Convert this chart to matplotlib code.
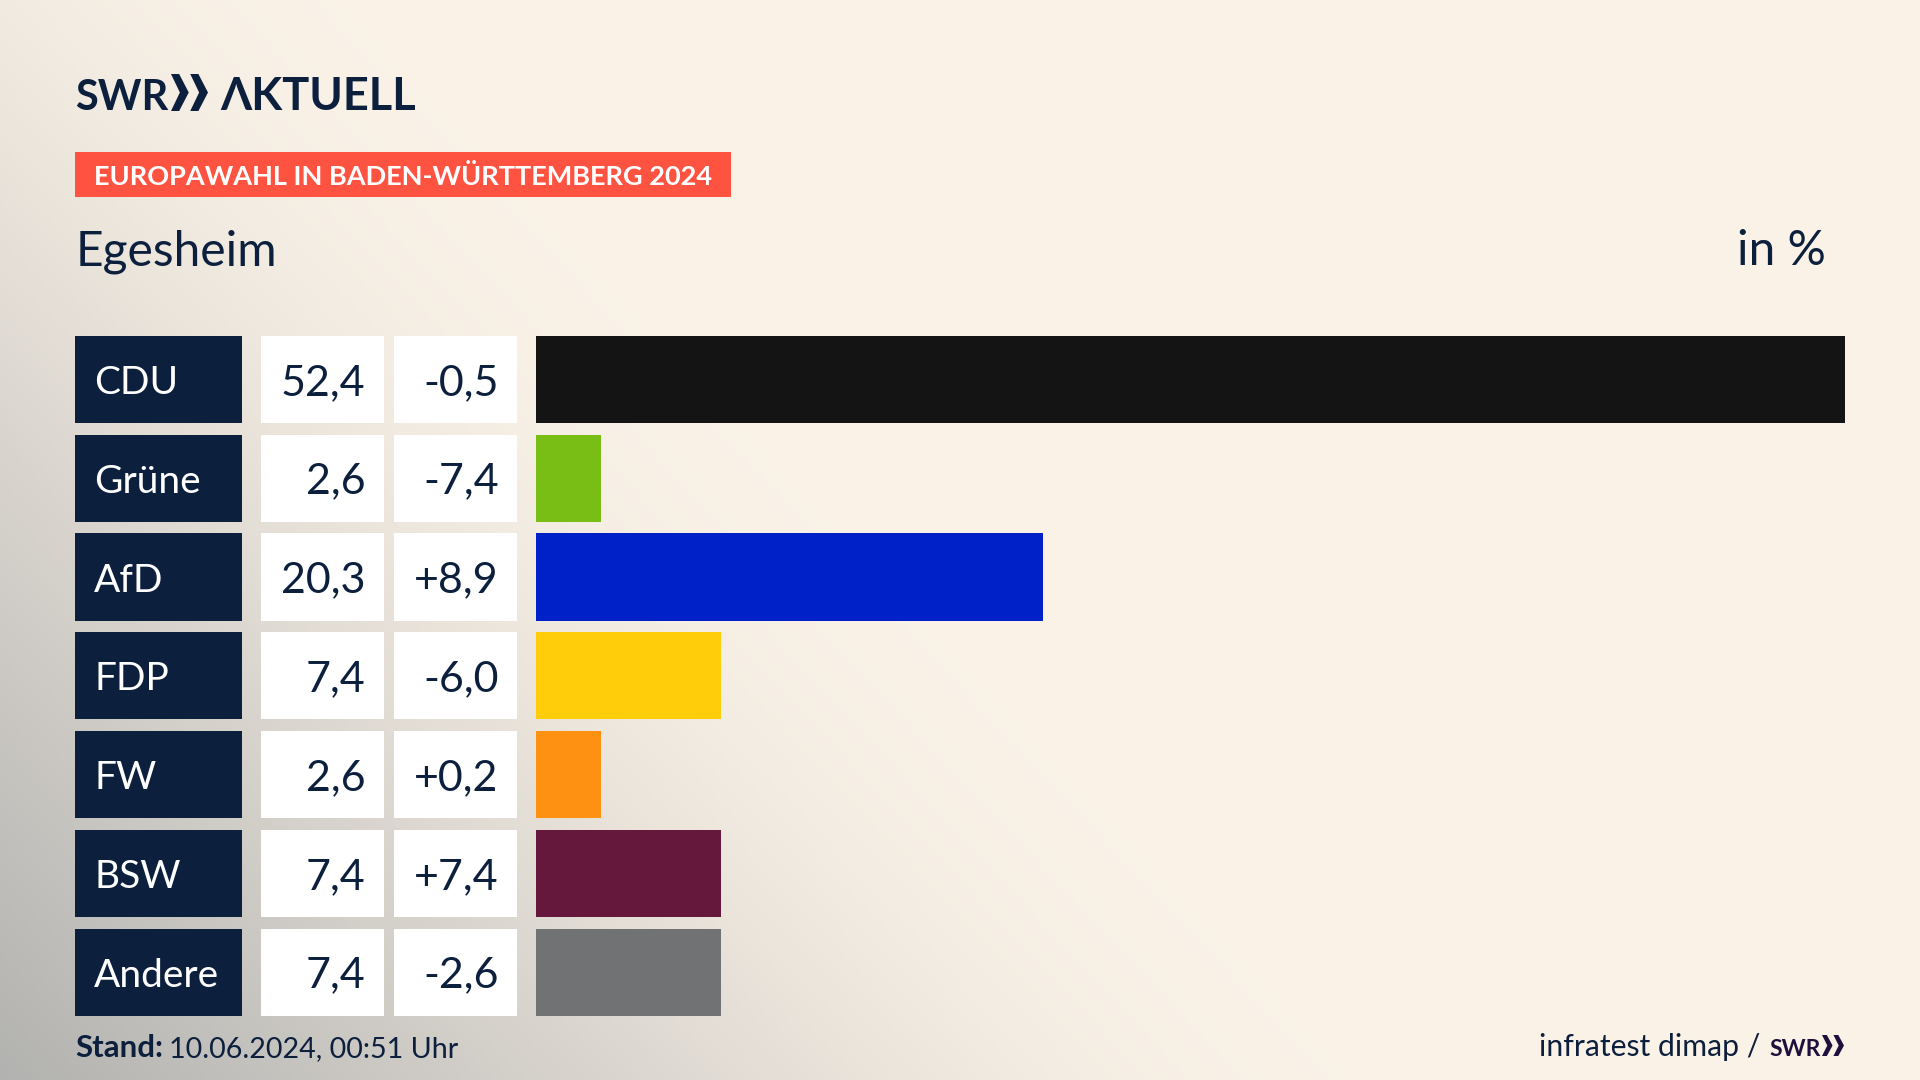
import matplotlib
matplotlib.use("Agg")
import matplotlib.pyplot as plt
import numpy as np
from matplotlib.patches import Polygon, Rectangle

plt.rcParams["font.family"] = ["Lato", "Noto Sans", "DejaVu Sans"]

parties = ["CDU", "Grüne", "AfD", "FDP", "FW", "BSW", "Andere"]
shares = [52.4, 2.6, 20.3, 7.4, 2.6, 7.4, 7.4]
changes = ["-0,5", "-7,4", "+8,9", "-6,0", "+0,2", "+7,4", "-2,6"]
colors = ["#141414", "#78BE14", "#0020C8", "#FFCD0A", "#FF9112", "#66173C", "#717274"]

NAVY = "#0C1F3D"
W, H = 1920, 1080

fig = plt.figure(figsize=(W / 100, H / 100), dpi=100)


def px_axes(x0, y0, x1, y1, **kw):
    # axes placed with pixel coords, y from the top
    return fig.add_axes([x0 / W, 1 - y1 / H, (x1 - x0) / W, (y1 - y0) / H], **kw)


# background, cream going grey towards the bottom left corner
bg = px_axes(0, 0, W, H)
xx, yy = np.meshgrid(np.arange(W), np.arange(H))
s = 1 - xx / 1130 - (H - yy) / 1200
t = np.clip(np.log1p(np.exp(10 * s)) / 10, 0, 1)[..., None]
cream = np.array([251, 243, 232]) / 255
grey = np.array([178, 178, 176]) / 255
bg.imshow(cream * (1 - t) + grey * t, aspect="auto")
bg.axis("off")

# overlay in pixel coords for header, boxes and footer
ov = px_axes(0, 0, W, H)
ov.set_xlim(0, W)
ov.set_ylim(H, 0)
ov.axis("off")
ov.patch.set_alpha(0)

# bars
ROW_TOP, ROW_H, BOX_H = 330, 98.8, 87.2
ax = px_axes(536, ROW_TOP, 1845, ROW_TOP + ROW_H * len(parties))
ax.patch.set_alpha(0)
y = np.arange(len(parties))
ax.barh(y, shares, height=BOX_H / ROW_H, color=colors)
ax.set_xlim(0, 52.4)
ax.set_ylim(len(parties) - 0.5, -0.5)
ax.axis("off")

# table columns left of the bars
for i, (party, share, change) in enumerate(zip(parties, shares, changes)):
    mid = ROW_TOP + (i + 0.5) * ROW_H
    top = mid - BOX_H / 2
    ov.add_patch(Rectangle((75, top), 167, BOX_H, color=NAVY, lw=0))
    ov.add_patch(Rectangle((261, top), 123, BOX_H, color="white", lw=0))
    ov.add_patch(Rectangle((394, top), 123, BOX_H, color="white", lw=0))
    ov.text(94, mid, party, color="white", fontsize=28, va="center_baseline", ha="left")
    ov.text(365.5, mid, f"{share:.1f}".replace(".", ","), color=NAVY, fontsize=31,
            va="center_baseline", ha="right")
    ov.text(498.5, mid, change, color=NAVY, fontsize=31, va="center_baseline", ha="right")


def chevrons(x, top, bottom, w, color):
    mid = (top + bottom) / 2
    for dx in (0, w * 0.52):
        ov.add_patch(Polygon([(x + dx, top), (x + dx + w * 0.22, top), (x + dx + w * 0.48, mid),
                              (x + dx + w * 0.22, bottom), (x + dx, bottom), (x + dx + w * 0.24, mid)],
                             color=color, lw=0))


# logo
ov.text(75, 110.5, "SWR", color=NAVY, fontsize=30, fontweight="bold", va="baseline")
chevrons(171, 74, 111, 37, NAVY)
ov.text(220, 110.5, "ΛKTUELL", color=NAVY, fontsize=32.5, fontweight="bold", va="baseline")

# header
ov.add_patch(Rectangle((75, 152), 656, 45, color="#FF5341", lw=0))
ov.text(94, 185, "EUROPAWAHL IN BADEN-WÜRTTEMBERG 2024", color="white", fontsize=19.5,
        fontweight="bold", va="baseline")
ov.text(76, 265, "Egesheim", color=NAVY, fontsize=34.5, va="baseline")
ov.text(1826, 265, "in %", color=NAVY, fontsize=34.5, va="baseline", ha="right")

# footer
ov.text(75, 1057, "Stand:", color=NAVY, fontsize=22.5, fontweight="bold", va="baseline")
ov.text(169, 1057, "10.06.2024, 00:51 Uhr", color=NAVY, fontsize=20.6, va="baseline")
ov.text(1760, 1056, "infratest dimap /", color=NAVY, fontsize=21.7, va="baseline", ha="right")
ov.text(1769, 1055.5, "SWR", color="#1E0F3C", fontsize=16.5, fontweight="bold", va="baseline")
chevrons(1822, 1035, 1056, 22, "#1E0F3C")

fig.savefig("out.png", dpi=100)
